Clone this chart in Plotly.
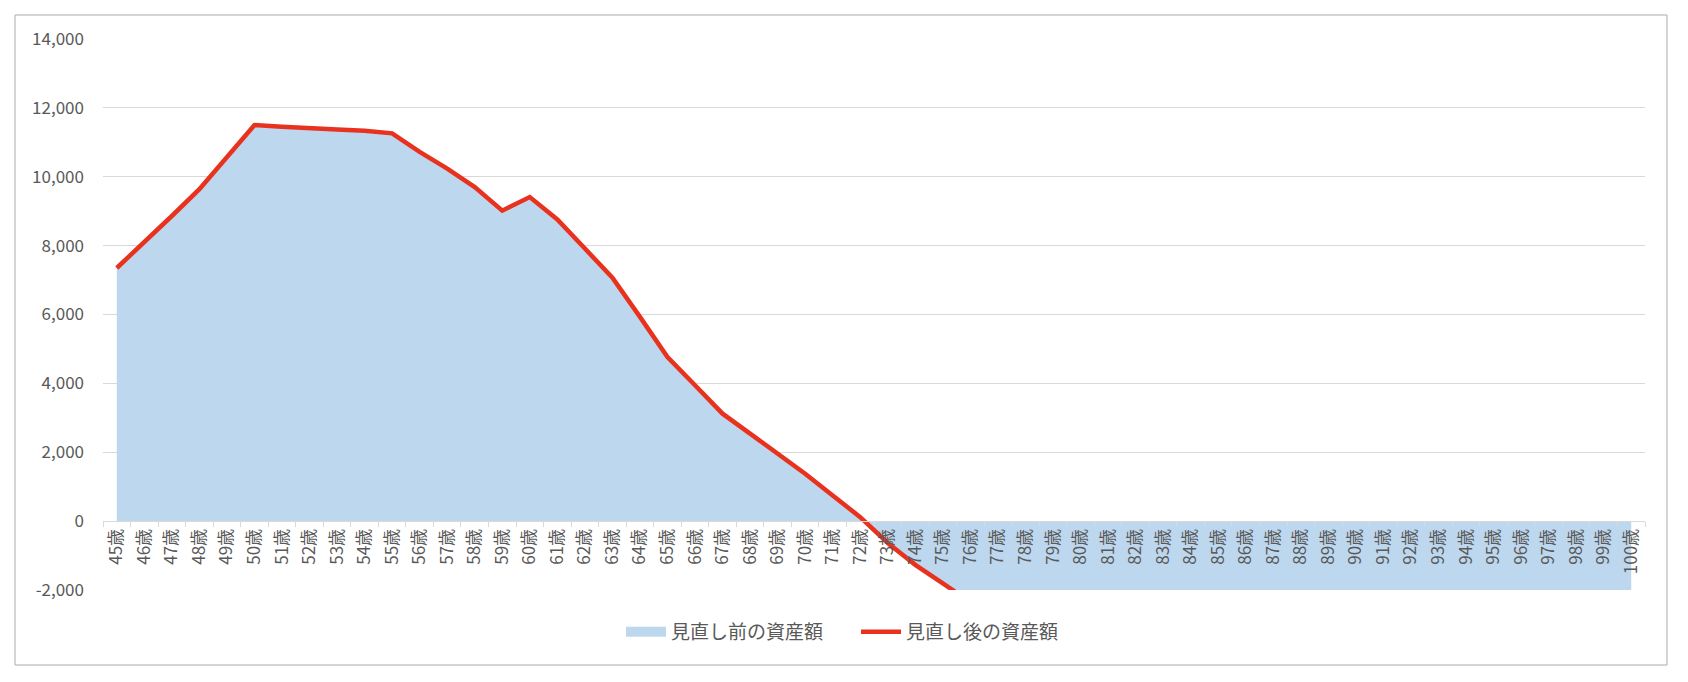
import plotly.graph_objects as go

# 年齢（カテゴリ）
ages = list(range(45, 101))
age_labels = [f"{a}歳" for a in ages]

# 見直し前の資産額（万円）: 76歳以降は -2,000 を下回り図の外
before_values = [
    7350, 8090, 8860, 9640, 10570, 11500, 11450, 11400, 11370, 11335,
    11260, 10720, 10235, 9700, 9015, 9410, 8760, 7915, 7070, 5930,
    4765, 3945, 3120, 2540, 1975, 1375, 745, 115, -635, -1270,
    -1805, -2340, -2900, -3450, -4000, -4550, -5100, -5650, -6200, -6750,
    -7300, -7850, -8400, -8950, -9500, -10050, -10600, -11150, -11700, -12250,
    -12800, -13350, -13900, -14450, -15000, -15550,
]

# 見直し後の資産額（万円）
after_values = [
    7350, 8090, 8860, 9640, 10570, 11500, 11450, 11400, 11370, 11335,
    11260, 10720, 10235, 9700, 9015, 9410, 8760, 7915, 7070, 5930,
    4765, 3945, 3120, 2540, 1975, 1375, 745, 115, -635, -1270,
    -1805, -2340, -2900, -3450, -4000, -4550, -5100, -5650, -6200, -6750,
    -7300, -7850, -8400, -8950, -9500, -10050, -10600, -11150, -11700, -12250,
    -12800, -13350, -13900, -14450, -15000, -15550,
]

y_ticks = [-2000, 0, 2000, 4000, 6000, 8000, 10000, 12000, 14000]
y_tick_labels = ["-2,000", "0", "2,000", "4,000", "6,000", "8,000",
                 "10,000", "12,000", "14,000"]

FONT = "Noto Sans CJK JP"
GREY = "#595959"
BLUE = "#BDD7EE"
RED = "#E8321E"

# page body has an 8px margin, so the figure is 16px smaller than the window
W, H = 1672, 666
L, R, T, B = 95, 35, 31, 84
pw, ph = W - L - R, H - T - B


def px_x(x):
    return (x - L) / pw


def px_y(y):
    return (H - B - y) / ph


fig = go.Figure()

fig.add_trace(go.Scatter(
    x=age_labels, y=before_values, name="見直し前の資産額",
    mode="lines", fill="tozeroy", fillcolor=BLUE,
    line=dict(width=0, color=BLUE), showlegend=False,
))
# legend swatch for the area (wide flat block like Excel's)
fig.add_trace(go.Scatter(
    x=[None], y=[None], name="見直し前の資産額",
    mode="lines", line=dict(width=12, color=BLUE),
))
fig.add_trace(go.Scatter(
    x=age_labels, y=after_values, name="見直し後の資産額",
    mode="lines", line=dict(width=4.5, color=RED),
))

fig.update_layout(
    width=W, height=H,
    margin=dict(l=L, r=R, t=T, b=B),
    paper_bgcolor="white", plot_bgcolor="white",
    font=dict(family=FONT, color=GREY),
    showlegend=True,
    legend=dict(
        orientation="h", x=px_x(848), xanchor="center",
        y=px_y(624), yanchor="middle",
        font=dict(size=19, color=GREY), itemwidth=40, entrywidth=180,
    ),
    xaxis=dict(
        type="category", range=[-0.5, len(ages) - 0.5],
        anchor="free", position=(0 - y_ticks[0]) / (y_ticks[-1] - y_ticks[0]),
        showgrid=False, showline=True, linecolor="#D9D9D9", linewidth=1,
        ticks="outside", tickson="boundaries", ticklen=5, tickcolor="#D9D9D9",
        tickangle=-90, tickfont=dict(size=17, color=GREY),
    ),
    yaxis=dict(
        range=[y_ticks[0], y_ticks[-1]], tickvals=y_ticks, ticktext=y_tick_labels,
        showgrid=True, gridcolor="#D9D9D9", gridwidth=1,
        zeroline=False, showline=False, ticks="",
        ticklabelstandoff=18, tickfont=dict(size=17, color=GREY),
    ),
    shapes=[dict(
        type="rect", xref="paper", yref="paper",
        x0=px_x(7), x1=px_x(1659), y0=px_y(657), y1=px_y(7),
        line=dict(color="#ABABAB", width=1), fillcolor="rgba(0,0,0,0)",
        layer="below",
    )],
)

fig.write_html("out.html")
